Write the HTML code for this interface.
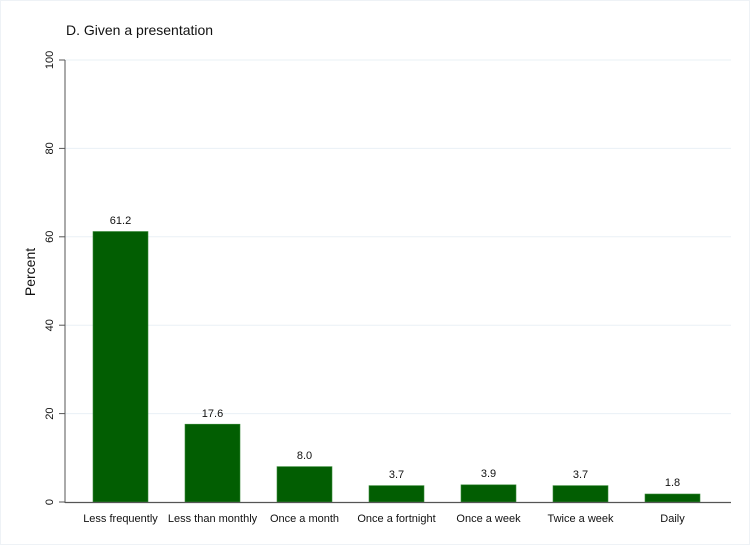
<!DOCTYPE html>
<html><head><style>body{margin:0;background:#fff}svg{display:block}text{font-family:"Liberation Sans",sans-serif;fill:#111}</style></head><body>
<svg width="750" height="545" xmlns="http://www.w3.org/2000/svg">
<rect x="0.5" y="0.5" width="749" height="544" fill="#fff" stroke="#eef2f6"/>
<text x="66" y="35" font-size="14">D. Given a presentation</text>
<g stroke="#eaf0f6" stroke-width="1">
<line x1="65" x2="731" y1="60" y2="60"/><line x1="65" x2="731" y1="148.4" y2="148.4"/><line x1="65" x2="731" y1="236.8" y2="236.8"/><line x1="65" x2="731" y1="325.2" y2="325.2"/><line x1="65" x2="731" y1="413.6" y2="413.6"/>
</g>
<g fill="#025e02" stroke="#3a8a3a" stroke-width="0.6">
<rect x="93" y="231.5" width="55" height="270.5"/>
<rect x="185" y="424.2" width="55" height="77.8"/>
<rect x="277" y="466.6" width="55" height="35.4"/>
<rect x="369" y="485.6" width="55" height="16.4"/>
<rect x="461" y="484.8" width="55" height="17.2"/>
<rect x="553" y="485.6" width="55" height="16.4"/>
<rect x="645" y="494" width="55" height="8"/>
</g>
<line x1="65" x2="65" y1="60" y2="503" stroke="#555"/>
<line x1="65" x2="731" y1="502.5" y2="502.5" stroke="#555" stroke-width="1.3"/>
<g stroke="#555"><line x1="59" x2="65" y1="60" y2="60"/><line x1="59" x2="65" y1="148.4" y2="148.4"/><line x1="59" x2="65" y1="236.8" y2="236.8"/><line x1="59" x2="65" y1="325.2" y2="325.2"/><line x1="59" x2="65" y1="413.6" y2="413.6"/><line x1="59" x2="65" y1="502" y2="502"/></g>
<g font-size="11" text-anchor="middle">
<text transform="translate(53,60) rotate(-90)">100</text>
<text transform="translate(53,148.4) rotate(-90)">80</text>
<text transform="translate(53,236.8) rotate(-90)">60</text>
<text transform="translate(53,325.2) rotate(-90)">40</text>
<text transform="translate(53,413.6) rotate(-90)">20</text>
<text transform="translate(53,502) rotate(-90)">0</text>
</g>
<text transform="translate(35,272) rotate(-90)" font-size="14" text-anchor="middle">Percent</text>
<g font-size="11" text-anchor="middle">
<text x="120.5" y="224">61.2</text><text x="212.5" y="417">17.6</text><text x="304.5" y="459">8.0</text><text x="396.5" y="478">3.7</text><text x="488.5" y="477">3.9</text><text x="580.5" y="478">3.7</text><text x="672.5" y="486">1.8</text>
<text x="120.5" y="522">Less frequently</text><text x="212.5" y="522">Less than monthly</text><text x="304.5" y="522">Once a month</text><text x="396.5" y="522">Once a fortnight</text><text x="488.5" y="522">Once a week</text><text x="580.5" y="522">Twice a week</text><text x="672.5" y="522">Daily</text>
</g>
</svg>
</body></html>
